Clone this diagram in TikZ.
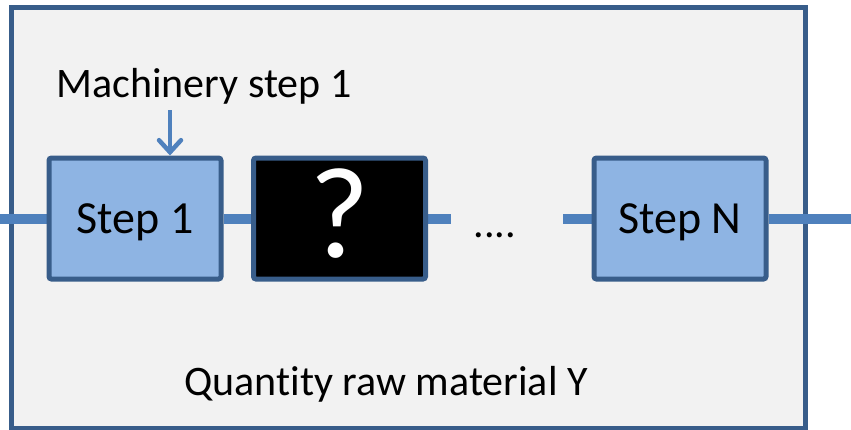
\documentclass[tikz,border=0pt]{standalone}
\usepackage{fontspec}
\setmainfont{Carlito}[Ligatures=CommonOff]
\usetikzlibrary{arrows.meta}
\definecolor{frame}{HTML}{385D8A}
\definecolor{stepfill}{HTML}{8EB4E3}
\definecolor{flow}{HTML}{4F81BD}
\definecolor{panel}{HTML}{F2F2F2}
\pgfdeclarelayer{panellayer}
\pgfdeclarelayer{linelayer}
\pgfsetlayers{panellayer,linelayer,main}
\tikzset{
  stepbox/.style={draw=frame, fill=stepfill, line width=5pt, rounded corners=2.5pt,
    minimum width=172pt, minimum height=121pt, inner sep=0pt,
    text height=29.5pt, text depth=0pt,
    font=\fontsize{46}{54}\selectfont},
  blackbox/.style={stepbox, fill=black, text=white, text height=78pt,
    font=\fontsize{130}{134}\selectfont},
  flowline/.style={draw=flow, line width=10pt},
  lbl/.style={font=\fontsize{42}{50}\selectfont, inner sep=0pt, anchor=base}
}
\begin{document}
\begin{tikzpicture}[x=1pt,y=-1pt]
\useasboundingbox (0,0) rectangle (851,429);
\begin{pgfonlayer}{panellayer}
\draw[draw=frame, fill=panel, line width=5pt] (11,7) rectangle (805,428);
\end{pgfonlayer}
\coordinate (inL) at (0,218.5);
\coordinate (qR) at (451,218.5);
\coordinate (nL) at (563,218.5);
\coordinate (outR) at (851,218.5);
\coordinate (mach) at (170,110);
\node[stepbox] (s1) at (135,218.5) {Step 1};
\node[blackbox] (q) at (339.5,218.5) {?};
\node[stepbox] (sN) at (680,218.5) {Step N};
\begin{pgfonlayer}{linelayer}
\path[flowline] (inL) -- (s1.west);
\path[flowline] (s1.east) -- (q.west);
\path[flowline] (q.east) -- (qR);
\path[flowline] (nL) -- (sN.west);
\path[flowline] (sN.east) -- (outR);
\end{pgfonlayer}
\node[lbl] (machlbl) at (204,97) {Machinery step 1};
\node[lbl] (dots) at (495,237) {....};
\node[lbl] (qty) at (386,395) {Quantity raw material Y};
\draw[draw=flow, line width=4.5pt, -{Straight Barb[length=12pt, width=22pt, line cap=round]}] (mach) -- (mach |- s1.north);
\end{tikzpicture}
\end{document}
